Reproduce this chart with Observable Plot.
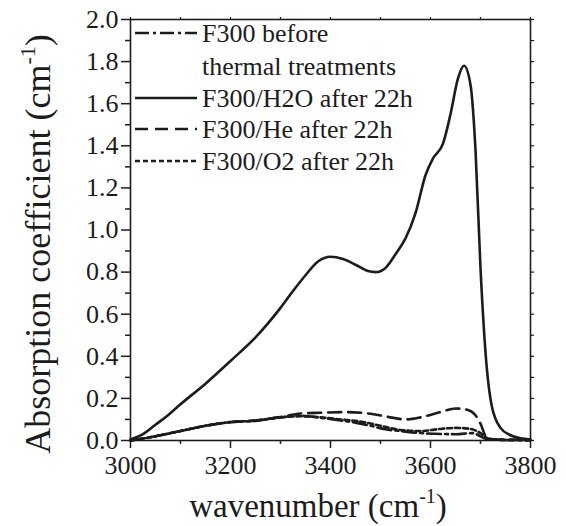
<!DOCTYPE html>
<html>
<head>
<meta charset="utf-8">
<script src="https://cdn.jsdelivr.net/npm/d3@7"></script>
<script src="https://cdn.jsdelivr.net/npm/@observablehq/plot@0.6"></script>
<style>
  html, body { margin: 0; padding: 0; background: #fff; }
  #wrap { position: relative; width: 566px; height: 526px; }
  #wrap svg { display: block; }
  #overlay { position: absolute; left: 0; top: 0; pointer-events: none; }
</style>
</head>
<body>
<div id="wrap"><div id="chart"></div></div>
<script>
// ---- data ----
const seriesKeys = ["before", "H2O", "He", "O2"];
const legendLines = [
  ["F300 before", "thermal treatments"],
  ["F300/H2O after 22h"],
  ["F300/He after 22h"],
  ["F300/O2 after 22h"]
];
const dashes = ["14,4,3,4", null, "13,7", "5,3"];

const wnH2O  = [3000,3025,3050,3075,3100,3150,3200,3250,3300,3325,3350,3375,3400,3425,3450,3475,3490,3510,3530,3550,3570,3590,3605,3625,3640,3655,3667,3680,3690,3700,3712,3722,3740,3760,3780,3800];
const absH2O = [0.005,0.03,0.075,0.12,0.172,0.27,0.378,0.49,0.63,0.71,0.785,0.85,0.873,0.862,0.835,0.805,0.80,0.82,0.885,0.96,1.08,1.26,1.34,1.41,1.55,1.72,1.78,1.69,1.38,0.82,0.36,0.17,0.06,0.025,0.01,0.005];

const wnHe  = [3000,3050,3100,3150,3200,3250,3300,3340,3380,3430,3480,3520,3550,3580,3620,3650,3675,3690,3700,3712,3725,3760,3800];
const absHe = [0.0,0.02,0.045,0.07,0.088,0.095,0.112,0.128,0.132,0.135,0.127,0.11,0.10,0.11,0.135,0.152,0.145,0.12,0.08,0.015,0.006,0.004,0.003];

const wnBefore  = [3000,3050,3100,3150,3200,3250,3300,3340,3380,3420,3450,3480,3510,3540,3570,3610,3650,3685,3700,3715,3760,3800];
const absBefore = [0.0,0.02,0.045,0.07,0.087,0.093,0.11,0.118,0.108,0.095,0.085,0.07,0.053,0.045,0.037,0.032,0.03,0.035,0.02,0.005,0.002,0.0];

const wnO2  = [3000,3050,3100,3150,3200,3250,3300,3340,3380,3420,3460,3500,3540,3580,3620,3650,3680,3700,3715,3740,3800];
const absO2 = [0.0,0.02,0.045,0.07,0.087,0.095,0.11,0.115,0.11,0.10,0.09,0.07,0.05,0.045,0.055,0.06,0.055,0.035,0.01,0.003,0.002];

const xMajor = [3000,3200,3400,3600,3800];
const xMinor = [3100,3300,3500,3700];
const yMajor = [0,0.2,0.4,0.6,0.8,1.0,1.2,1.4,1.6,1.8,2.0];
const yMinor = [0.1,0.3,0.5,0.7,0.9,1.1,1.3,1.5,1.7,1.9];

// ---- build table ----
const rows = [];
const add = (key, xs, ys) => xs.forEach((x, i) => rows.push({series: key, wn: x, a: ys[i]}));
add("before", wnBefore, absBefore);
add("H2O", wnH2O, absH2O);
add("He", wnHe, absHe);
add("O2", wnO2, absO2);

const FONT = `"Liberation Serif"`;
const INK = "#1c1c1c";
const noText = () => "";

const lineMarks = seriesKeys.map((k, i) =>
  Plot.line(rows.filter(r => r.series === k), {
    x: "wn", y: "a", stroke: INK, strokeWidth: 2.6,
    strokeDasharray: dashes[i] || undefined, curve: "monotone-x"
  })
);

const chart = Plot.plot({
  width: 566,
  height: 526,
  marginLeft: 130,
  marginRight: 36,
  marginTop: 19,
  marginBottom: 86,
  style: {background: "#fff", color: INK, fontFamily: FONT},
  x: {domain: [3000, 3800]},
  y: {domain: [0, 2]},
  marks: [
    ...lineMarks,
    Plot.frame({stroke: INK, strokeWidth: 1.6}),
    Plot.axisY(yMajor, {tickSize: 9, tickPadding: 3, strokeWidth: 1.5, fontSize: 26, tickFormat: d3.format(".1f"), label: null}),
    Plot.axisY(yMinor, {tickSize: 5, strokeWidth: 1.5, tickFormat: noText, label: null}),
    Plot.axisY([...yMajor, ...yMinor], {anchor: "right", tickSize: 3, strokeWidth: 1.2, tickFormat: noText, label: null}),
    Plot.axisX(xMajor, {tickSize: 8, tickPadding: 7, strokeWidth: 1.5, fontSize: 26, tickFormat: d3.format("d"), label: null}),
    Plot.axisX(xMinor, {tickSize: 4, strokeWidth: 1.5, tickFormat: noText, label: null}),
    Plot.axisX([...xMajor, ...xMinor], {anchor: "top", tickSize: 3, strokeWidth: 1.2, tickFormat: noText, label: null})
  ]
});
document.getElementById("chart").appendChild(chart);
d3.select(chart).selectAll("text").style("font-family", FONT);

// ---- overlay svg for axis titles and legend ----
const ov = d3.select("#wrap").append("svg")
  .attr("id", "overlay").attr("width", 566).attr("height", 526);

const yl = ov.append("text")
  .attr("transform", "translate(50,244) rotate(-90)")
  .attr("text-anchor", "middle")
  .style("font-family", FONT).attr("font-size", 36).attr("fill", INK);
yl.append("tspan").text("Absorption coefficient (cm");
yl.append("tspan").attr("font-size", 22).attr("dy", -15).text("-1");
yl.append("tspan").attr("dy", 15).text(")");

const xl = ov.append("text")
  .attr("x", 318).attr("y", 517)
  .attr("text-anchor", "middle")
  .style("font-family", FONT).attr("font-size", 33).attr("fill", INK);
xl.append("tspan").text("wavenumber (cm");
xl.append("tspan").attr("font-size", 20).attr("dy", -14).text("-1");
xl.append("tspan").attr("dy", 14).text(")");

const legendY = [[42, 75], [107], [138], [170]];
seriesKeys.forEach((k, i) => {
  const base = legendY[i][0];
  ov.append("line")
    .attr("x1", 135).attr("x2", 197)
    .attr("y1", base - 9).attr("y2", base - 9)
    .attr("stroke", INK).attr("stroke-width", 2.6)
    .attr("stroke-dasharray", dashes[i] || null);
  legendLines[i].forEach((t, j) => {
    ov.append("text").attr("x", 202).attr("y", legendY[i][j])
      .style("font-family", FONT).attr("font-size", 26).attr("fill", INK).text(t);
  });
});
</script>
</body>
</html>
